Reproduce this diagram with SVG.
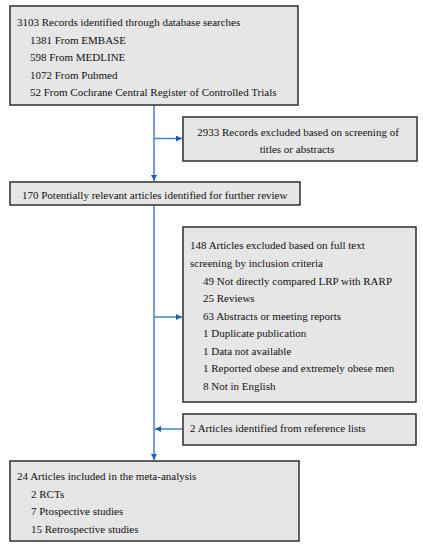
<svg xmlns="http://www.w3.org/2000/svg" width="423" height="547" viewBox="0 0 423 547">
<style>
.box{fill:#e6e6e6;stroke:#3a3a3a;stroke-width:1.6}
.t{font-family:"Liberation Serif","Times New Roman",serif;font-size:11px;fill:#111}
.c{text-anchor:middle}
.ln{stroke:#4a8ad8;stroke-width:1.6;fill:none}
</style>
<defs>
<marker id="ah" viewBox="0 0 10 10" refX="10" refY="5" markerWidth="6" markerHeight="6" markerUnits="userSpaceOnUse" orient="auto">
<path d="M0,0 L10,5 L0,10 Z" fill="#1f5fb5"/>
</marker>
</defs>
<rect width="423" height="547" fill="#fff"/>
<g id="connectors">
<line class="ln" x1="154" y1="105" x2="154" y2="181" marker-end="url(#ah)"/>
<line class="ln" x1="154" y1="138.5" x2="182" y2="138.5" marker-end="url(#ah)"/>
<line class="ln" x1="154" y1="205" x2="154" y2="460" marker-end="url(#ah)"/>
<line class="ln" x1="154" y1="317" x2="182" y2="317" marker-end="url(#ah)"/>
<line class="ln" x1="183" y1="429" x2="155" y2="429" marker-end="url(#ah)"/>
</g>
<g id="n1">
<rect class="box" x="10" y="6" width="288" height="99"/>
<text class="t" x="17" y="26">3103 Records identified through database searches</text>
<text class="t" x="30" y="43.5">1381 From EMBASE</text>
<text class="t" x="30" y="61">598 From MEDLINE</text>
<text class="t" x="30" y="78.5">1072 From Pubmed</text>
<text class="t" x="30" y="96">52 From Cochrane Central Register of Controlled Trials</text>
</g>
<g id="n2">
<rect class="box" x="183" y="117" width="234" height="44"/>
<text class="t c" x="298" y="135.5">2933 Records excluded based on screening of</text>
<text class="t c" x="297" y="153">titles or abstracts</text>
</g>
<g id="n3">
<rect class="box" x="10" y="182" width="290" height="23"/>
<text class="t" x="22" y="198.5">170 Potentially relevant articles identified for further review</text>
</g>
<g id="n4">
<rect class="box" x="183" y="227" width="233" height="175"/>
<text class="t" x="190" y="249">148 Articles excluded based on full text</text>
<text class="t" x="190" y="267">screening by inclusion criteria</text>
<text class="t" x="203" y="284.8">49 Not directly compared LRP with RARP</text>
<text class="t" x="203" y="302">25 Reviews</text>
<text class="t" x="203" y="319.8">63 Abstracts or meeting reports</text>
<text class="t" x="203" y="337">1 Duplicate publication</text>
<text class="t" x="203" y="354.5">1 Data not available</text>
<text class="t" x="203" y="372">1 Reported obese and extremely obese men</text>
<text class="t" x="203" y="389.8">8 Not in English</text>
</g>
<g id="n5">
<rect class="box" x="183" y="414" width="233" height="31"/>
<text class="t" x="190" y="432">2 Articles identified from reference lists</text>
</g>
<g id="n6">
<rect class="box" x="10" y="461" width="289" height="80"/>
<text class="t" x="17" y="480">24 Articles included in the meta-analysis</text>
<text class="t" x="31" y="497.5">2 RCTs</text>
<text class="t" x="31" y="515">7 Ptospective studies</text>
<text class="t" x="31" y="532.5">15 Retrospective studies</text>
</g>
</svg>
